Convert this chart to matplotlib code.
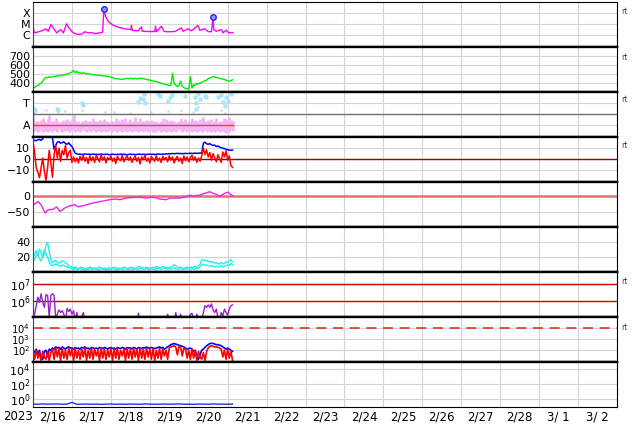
# plot.py
# Space-weather summary, 2023-02-16 .. 2023-03-02: nine stacked panels
# (X-ray, wind speed, sector, IMF, Dst, density, electrons, protons, neutrons)

import numpy as np
import matplotlib
matplotlib.use("Agg")
import matplotlib.pyplot as plt
from matplotlib.ticker import NullLocator

# ---- time base: hours since 2023-02-16 00:00 UT ----
HOURS = np.arange(124)
day_labels = ["2/16", "2/17", "2/18", "2/19", "2/20", "2/21", "2/22", "2/23",
              "2/24", "2/25", "2/26", "2/27", "2/28", "3/ 1", "3/ 2"]

# ---- panel 1: X-ray flux ----
xray_hours = [0, 0.6, 1.2, 4.3, 6.4, 7.8, 9.4, 11.1, 12.5, 14.6,
              15.6, 17.2, 18.7, 20.7, 22.2, 23.8, 25.8, 27.9, 30.0, 32.0,
              34.1, 36.1, 38.2, 41.2, 42.9, 43.7, 44.7, 45.9, 47.4, 49.4,
              52.5, 56.6, 60.3, 60.7, 61.1, 64.8, 66.9, 67.3, 71.0, 75.1,
              75.5, 76.1, 79.2, 80.8, 83.3, 87.4, 91.5, 92.5, 95.6, 97.6,
              101.7, 102.8, 105.8, 107.9, 110.0, 111.0, 111.4, 113.0, 116.1, 117.1,
              119.2, 120.6, 123.3]
xray_flux = [8e-6, 2.0e-6, 1.5e-6, 2.1e-6, 2.6e-6, 3.5e-6, 2.1e-6, 8.7e-6, 4.3e-6, 1.5e-6,
             2.0e-6, 3.0e-6, 1.5e-6, 1.0e-5, 4.3e-6, 2.1e-6, 1.3e-6, 1.07e-6, 1.2e-6, 1.9e-6,
             1.5e-6, 1.6e-6, 1.3e-6, 1.5e-6, 1.7e-6, 2.3e-4, 4.9e-5, 2.1e-5, 1.2e-5, 7.6e-6,
             4.9e-6, 3.5e-6, 3.0e-6, 7.0e-6, 2.6e-6, 2.3e-6, 5.3e-6, 2.1e-6, 2.0e-6, 2.0e-6,
             6.0e-6, 1.9e-6, 6.0e-6, 2.0e-6, 1.9e-6, 2.0e-6, 4.3e-6, 2.1e-6, 3.5e-6, 2.3e-6,
             7.0e-6, 2.6e-6, 3.5e-6, 2.0e-6, 1.9e-6, 4.3e-5, 3.0e-6, 2.1e-6, 3.0e-6, 1.5e-6,
             2.6e-6, 1.5e-6, 1.6e-6]
flare_hours = [43.7, 111.0]
flare_flux = [2.3e-4, 4.3e-5]

# ---- panel 2: solar wind speed (km/s), hourly ----
speed = [340, 352, 365, 372, 385, 400, 420, 445, 462,
         458, 470, 462, 468, 475, 470, 482, 478,
         486, 480, 495, 490, 502, 498, 515, 520,
         540, 512, 530, 508, 515, 505, 512, 508,
         500, 505, 496, 498, 492, 490, 488, 485,
         486, 482, 480, 478, 476, 474, 470, 466,
         460, 452, 448, 446, 444, 442, 440, 443,
         448, 452, 446, 455, 450, 448, 452, 446,
         450, 454, 448, 452, 444, 438, 436, 432,
         428, 424, 420, 416, 410, 404, 398, 392,
         388, 384, 378, 374, 372, 505, 395, 380,
         362, 372, 420, 365, 350, 342, 336, 332,
         470, 345, 385, 372, 398, 388, 402, 405,
         418, 425, 432, 448, 456, 462, 470, 466,
         460, 456, 450, 448, 442, 438, 432, 425,
         420, 428, 435]

# ---- panel 3: sector polarity (A = 0, T = 1), hourly ranges + points ----
pink_hi = [0.45, 0.2, 0.15, 0.2, 0.1, 0.25, 0.35, 0.2, 0.15, 0.3, 0.45, 0.2,
           0.15, 0.2, 0.35, 0.2, 0.15, 0.1, 0.2, 0.25, 0.15, 0.3, 0.2, 0.15,
           0.3, 0.45, 0.2, 0.15, 0.2, 0.1, 0.2, 0.15, 0.25, 0.2, 0.15, 0.2,
           0.15, 0.35, 0.2, 0.15, 0.2, 0.25, 0.15, 0.2, 0.3, 0.2, 0.15, 0.1,
           0.2, 0.15, 0.2, 0.35, 0.2, 0.25, 0.15, 0.3, 0.2, 0.35, 0.15, 0.2,
           0.3, 0.15, 0.2, 0.4, 0.2, 0.15, 0.35, 0.2, 0.15, 0.2, 0.25, 0.2,
           0.15, 0.25, 0.2, 0.15, 0.2, 0.1, 0.2, 0.15, 0.35, 0.2, 0.3, 0.15,
           0.2, 0.25, 0.15, 0.2, 0.1, 0.15, 0.2, 0.35, 0.15, 0.2, 0.3, 0.15,
           0.2, 0.15, 0.35, 0.2, 0.25, 0.2, 0.15, 0.3, 0.2, 0.4, 0.2, 0.15,
           0.25, 0.2, 0.3, 0.15, 0.2, 0.35, 0.15, 0.2, 0.1, 0.2, 0.35, 0.3,
           0.2, 0.4, 0.25, 0.2]
pink_lo = [-0.3, -0.25, -0.2, -0.3, -0.25, -0.15, -0.3, -0.2, -0.25, -0.3, -0.2, -0.25,
           -0.3, -0.2, -0.25, -0.3, -0.15, -0.25, -0.3, -0.2, -0.25, -0.2, -0.3, -0.25,
           -0.2, -0.25, -0.3, -0.2, -0.25, -0.3, -0.2, -0.15, -0.25, -0.3, -0.2, -0.25,
           -0.3, -0.2, -0.25, -0.3, -0.25, -0.2, -0.3, -0.25, -0.2, -0.3, -0.25, -0.2,
           -0.25, -0.3, -0.2, -0.25, -0.3, -0.2, -0.25, -0.3, -0.15, -0.25, -0.3, -0.2,
           -0.25, -0.3, -0.2, -0.25, -0.2, -0.3, -0.25, -0.2, -0.3, -0.25, -0.2, -0.3,
           -0.25, -0.2, -0.3, -0.25, -0.3, -0.2, -0.25, -0.3, -0.2, -0.25, -0.3, -0.2,
           -0.25, -0.3, -0.2, -0.25, -0.3, -0.2, -0.15, -0.25, -0.3, -0.2, -0.25, -0.3,
           -0.2, -0.25, -0.3, -0.2, -0.25, -0.3, -0.25, -0.2, -0.3, -0.25, -0.2, -0.3,
           -0.25, -0.2, -0.3, -0.25, -0.3, -0.2, -0.25, -0.3, -0.2, -0.25, -0.3, -0.35,
           -0.25, -0.3, -0.2, -0.25]
sky_hours = [0.2, 0.8, 1.5, 14.6, 15.6, 30.0, 31.0, 64.8, 66.0, 67.9,
             68.2, 68.9, 77.1, 78.0, 83.3, 84.5, 85.5, 93.5, 99.7, 100.5,
             101.7, 102.8, 105.8, 106.8, 114.0, 116.1, 117.1, 118.1, 119.2, 120.0,
             121.9, 100.6]
sky_vals = [0.75, 0.6, 0.7, 0.75, 0.7, 1.0, 0.95, 1.05, 1.25, 1.2,
            1.44, 1.0, 1.44, 1.35, 1.13, 1.3, 1.4, 1.36, 1.28, 1.0,
            1.44, 1.2, 1.36, 1.28, 1.28, 1.4, 1.05, 0.9, 1.3, 1.1,
            1.44, 0.75]
gray_hours = [0.5, 15.6, 19.7, 30.0, 44.3, 59.5, 72.5, 83.3, 91.5, 98.6,
              101.7, 116.1, 118.1, 50.0, 8.0]
gray_vals = [0.85, 0.57, 0.65, 0.7, 0.6, 0.57, 0.6, 0.65, 0.72, 0.62,
             0.85, 0.72, 0.57, 0.6, 0.7]

# ---- panel 4: IMF Bt (blue) and Bz (red), nT, hourly ----
bt = [16.5, 17.2, 16.8, 17.5, 18.0, 17.2, 18.5, 21.5, 21.0, 22.0, 21.5, 20.5,
      19.5, 9.0, 12.5, 15.5, 16.0, 14.5, 15.0, 15.8, 14.2, 13.5, 14.8, 13.0,
      11.5, 8.5, 5.5, 4.8, 4.5, 4.6, 4.2, 4.4, 4.7, 4.3, 4.5, 4.4,
      4.2, 4.6, 4.3, 4.5, 4.1, 4.4, 4.6, 4.3, 4.2, 4.5, 4.4, 4.0,
      4.2, 4.5, 4.3, 4.1, 4.4, 4.2, 4.6, 4.3, 4.5, 4.2, 4.0, 4.3,
      4.5, 4.2, 4.4, 4.1, 4.3, 4.6, 4.4, 4.2, 4.5, 4.3, 4.1, 4.4,
      4.6, 4.3, 4.5, 4.2, 4.4, 4.7, 4.5, 4.3, 4.6, 4.4, 4.8, 4.6,
      5.0, 4.8, 5.2, 4.9, 5.1, 5.3, 5.0, 5.2, 4.9, 5.1, 5.3, 5.0,
      5.2, 5.4, 5.1, 5.3, 5.5, 5.2, 5.4, 5.6, 5.3, 14.5, 15.5, 14.0,
      13.5, 14.2, 13.0, 12.5, 12.8, 11.5, 12.0, 11.0, 10.5, 10.0, 9.5, 9.0,
      8.5, 8.2, 8.0, 8.3]
bz = [16.0, 6.0, -8.0, -12.0, -17.0, -8.0, 1.0, -11.0, -19.5, -8.0, 8.0, -3.0,
      -16.5, 4.0, 12.5, 1.0, 10.0, -2.0, 8.0, 4.0, 12.5, 1.0, 6.0, 8.0,
      -3.0, 2.0, -2.5, 1.0, -3.5, 2.5, -1.0, 3.5, -2.0, 1.5, -4.0, 3.0,
      -1.5, 2.0, -3.0, 3.5, 0.5, -2.5, 4.0, -1.0, 2.0, -3.5, 1.5, -0.5,
      3.0, -2.0, 1.0, -4.0, 2.5, 0.0, -1.5, 3.5, -2.5, 1.0, 3.0, -1.0,
      2.0, -3.0, 0.5, 3.0, -2.0, 1.5, -4.5, 2.0, -0.5, 3.5, -2.0, 1.0,
      -3.5, 2.5, 0.0, -2.0, 3.0, -1.5, 1.0, -3.0, 2.5, -0.5, 1.5, -2.5,
      3.0, -1.0, 2.0, -3.5, 0.5, 2.5, -2.0, 1.0, -4.0, 3.0, -1.5, 2.0,
      -2.5, 1.5, 3.5, -1.0, 2.0, -3.0, 1.0, -2.0, 3.0, 10.0, 4.0, 8.5,
      2.0, 6.0, -1.0, 5.0, 1.5, -2.5, 4.0, 0.5, -3.0, 6.5, 2.0, 7.5,
      -1.0, 3.0, -6.0, -7.5]

# ---- panel 5: Dst (nT) ----
dst_hours = [0.2, 3.3, 5.3, 7.4, 9.4, 12.5, 14.6, 16.6, 19.7, 22.8,
             25.8, 27.9, 33.0, 35.0, 41.2, 47.4, 50.5, 53.5, 57.6, 61.7,
             65.8, 69.9, 74.0, 78.1, 82.2, 84.3, 90.4, 93.5, 96.5, 98.6,
             102.7, 105.8, 108.9, 111.0, 113.0, 115.0, 118.1, 120.2, 122.2, 123.3]
dst_vals = [-26, -16, -29, -52, -42, -40, -33, -47, -36, -29,
            -26, -33, -26, -23, -16, -10, -8, -10, -5, -3,
            -2, -5, -2, -8, -10, -5, -5, -2, 4, 2,
            4, 10, 15, 10, 7, 0, 10, 14, 5, 2]

# ---- panel 6: proton density (/cc), two sources, hourly ----
dens_a = [20, 24, 29, 22, 31, 26, 20, 24, 36, 40, 28, 16,
          13, 15, 16, 13, 12, 14, 15, 14, 13, 11, 9, 8,
          7, 6, 7, 6, 5, 6, 7, 6, 5, 5, 6, 7,
          6, 5, 6, 5, 6, 7, 6, 5, 6, 5, 5, 6,
          5, 6, 7, 6, 5, 6, 5, 6, 7, 6, 5, 6,
          6, 7, 6, 5, 6, 7, 8, 6, 5, 6, 7, 6,
          5, 6, 7, 6, 8, 7, 6, 7, 8, 7, 6, 7,
          6, 7, 8, 10, 9, 7, 6, 7, 6, 5, 6, 7,
          6, 7, 6, 7, 8, 7, 9, 11, 16, 17, 15, 16,
          14, 15, 13, 14, 12, 13, 11, 12, 13, 11, 12, 14,
          13, 15, 17, 14]
dens_b = [14, 18, 22, 26, 18, 15, 22, 30, 25, 20, 14, 10,
          9, 10, 11, 10, 9, 8, 10, 9, 8, 7, 6, 6,
          5, 4, 5, 4, 4, 5, 4, 4, 3, 4, 4, 5,
          4, 4, 5, 4, 3, 4, 5, 4, 4, 3, 4, 4,
          4, 5, 4, 4, 3, 4, 5, 4, 4, 5, 4, 4,
          5, 4, 4, 5, 4, 4, 5, 6, 4, 4, 5, 4,
          4, 5, 4, 4, 5, 6, 5, 4, 5, 6, 5, 4,
          5, 4, 5, 6, 5, 4, 4, 5, 4, 4, 5, 4,
          5, 4, 5, 4, 5, 6, 5, 8, 10, 11, 9, 10,
          9, 8, 9, 8, 7, 8, 7, 8, 9, 7, 8, 9,
          10, 9, 12, 10]

# ---- panel 7: electron flux, log10, hourly (4.8 = below plot floor) ----
elec_log = [4.8, 5.2, 5.7, 6.2, 5.9, 6.4, 5.9, 5.6, 6.35, 6.3, 5.0, 6.3,
            6.4, 6.3, 5.0, 5.2, 5.45, 5.3, 5.4, 5.2, 4.8, 5.55, 5.35, 5.5,
            5.2, 5.4, 4.8, 5.3, 4.8, 4.8, 5.0, 5.3, 4.8, 4.8, 4.8, 4.8,
            4.8, 4.8, 4.8, 4.8, 4.8, 4.8, 4.8, 4.8, 4.8, 4.8, 4.8, 4.8,
            4.8, 4.8, 4.8, 4.8, 4.8, 4.8, 4.8, 4.8, 4.8, 4.8, 4.8, 4.8,
            4.8, 4.8, 4.8, 4.8, 4.8, 5.25, 4.8, 4.8, 4.8, 4.8, 4.8, 4.8,
            4.8, 4.8, 4.8, 4.8, 4.8, 4.8, 4.8, 4.8, 4.8, 4.8, 4.8, 5.2,
            4.8, 4.8, 4.8, 4.8, 5.3, 4.8, 4.8, 5.2, 4.8, 4.8, 4.8, 4.8,
            4.8, 5.2, 5.25, 4.8, 4.8, 5.2, 4.8, 4.8, 4.8, 5.3, 5.7, 5.6,
            5.75, 5.6, 5.8, 5.45, 5.3, 5.5, 5.0, 4.8, 5.3, 5.1, 5.5, 5.3,
            5.15, 5.5, 5.7, 5.75]

# ---- panel 8: proton flux, log10, hourly ----
prot_red_log = [1.9, 1.2, 2.0, 1.3, 1.8, 1.1, 1.9, 1.4, 1.2, 1.9, 1.1, 1.8,
                2.1, 1.2, 2.2, 1.4, 2.1, 1.1, 2.2, 1.3, 2.0, 1.2, 2.2, 1.5,
                2.1, 1.1, 2.2, 1.3, 2.0, 1.2, 2.1, 1.4, 2.2, 1.1, 2.0, 1.3,
                2.2, 1.2, 2.1, 1.5, 2.0, 1.1, 2.2, 1.3, 2.1, 1.2, 2.0, 1.4,
                2.2, 1.1, 2.1, 1.3, 2.2, 1.2, 2.0, 1.5, 2.1, 1.1, 2.2, 1.3,
                2.1, 1.2, 2.2, 1.4, 2.1, 1.1, 2.2, 1.3, 2.1, 1.2, 2.2, 1.4,
                2.1, 1.2, 2.2, 1.1, 2.0, 1.3, 2.2, 1.2, 2.1, 1.5, 2.0, 1.2,
                2.2, 2.3, 2.35, 2.4, 2.3, 1.6, 2.35, 2.3, 1.5, 2.2, 2.1, 1.3,
                2.0, 1.2, 2.1, 1.3, 2.0, 1.1, 1.9, 1.4, 1.2, 1.8, 1.1, 1.9,
                2.2, 2.35, 2.4, 2.35, 2.3, 2.3, 2.25, 2.2, 2.1, 1.4, 2.0, 1.2,
                2.1, 1.3, 1.9, 1.1]
prot_blue_log = [2.0, 1.8, 2.1, 1.6, 2.0, 1.3, 1.2, 1.9, 2.0, 1.4, 2.1, 2.0,
                 2.2, 2.1, 2.3, 2.2, 2.25, 2.1, 2.3, 2.2, 2.1, 2.25, 2.3, 2.2,
                 2.2, 2.1, 2.25, 2.15, 2.2, 2.1, 2.25, 2.2, 2.3, 2.15, 2.2, 2.1,
                 2.25, 2.2, 2.15, 2.2, 2.1, 2.25, 2.2, 2.15, 2.25, 2.2, 2.1, 2.2,
                 2.25, 2.15, 2.2, 2.1, 2.25, 2.2, 2.15, 2.25, 2.2, 2.1, 2.25, 2.2,
                 2.2, 2.15, 2.25, 2.2, 2.1, 2.25, 2.2, 2.15, 2.25, 2.2, 2.3, 2.2,
                 2.2, 2.25, 2.2, 2.15, 2.2, 2.25, 2.3, 2.2, 2.25, 2.1, 2.2, 2.3,
                 2.4, 2.5, 2.55, 2.6, 2.55, 2.5, 2.45, 2.4, 2.35, 2.3, 2.2, 2.1,
                 2.15, 2.2, 2.1, 1.9, 2.0, 1.3, 1.2, 1.6, 2.0, 2.1, 2.25, 2.4,
                 2.5, 2.6, 2.62, 2.6, 2.55, 2.5, 2.5, 2.45, 2.4, 2.3, 2.2, 2.1,
                 2.2, 2.1, 2.0, 1.9]

# ---- panel 9: neutron-type count, log10, every 3 h ----
neut_hours = np.arange(0, 124, 3)
neut_log = [-0.68, -0.70, -0.66, -0.69, -0.67, -0.67, -0.70, -0.68, -0.45, -0.71,
            -0.69, -0.67, -0.70, -0.68, -0.72, -0.69, -0.66, -0.70, -0.68, -0.71,
            -0.67, -0.69, -0.70, -0.66, -0.68, -0.71, -0.69, -0.67, -0.70, -0.68,
            -0.66, -0.70, -0.69, -0.71, -0.67, -0.68, -0.70, -0.66, -0.69, -0.68,
            -0.70, -0.67]

# ---- figure ----
W, H = 634, 424
fig, axes = plt.subplots(9, 1, figsize=(W / 100, H / 100), dpi=100)
fig.subplots_adjust(left=33 / W, right=617 / W, top=1 - 1.7 / H,
                    bottom=1 - 406.5 / H, hspace=0)

for i, ax in enumerate(axes):
    ax.set_xlim(0, 360)
    ax.set_xticks(np.arange(0, 361, 24))
    ax.set_xticks(np.arange(12, 360, 24), minor=True)
    ax.set_xticklabels([])
    ax.grid(True, which="major", color="#d4d4d4", lw=0.8)
    ax.set_axisbelow(True)
    ax.tick_params(axis="x", which="both", length=0, labelbottom=False)
    ax.tick_params(axis="y", which="both", length=0, pad=2, labelsize=8)
    ax.spines["top"].set_linewidth(0.8 if i == 0 else 1.7)
    ax.spines["bottom"].set_linewidth(0.8 if i == 8 else 1.7)
    ax.spines["left"].set_color("#444444")
    ax.spines["left"].set_linewidth(0.8)
    ax.spines["right"].set_linewidth(0.8)

# 1) X-ray
ax = axes[0]
ax.set_yscale("log")
ax.plot(xray_hours, xray_flux, color="#ff00ff", lw=1)
ax.plot(flare_hours, flare_flux, "o", ms=4, mfc="#9999ff", mec="#2222ff", mew=1)
ax.set_ylim(8.5e-8, 1e-3)
ax.set_yticks([1e-6, 1e-5, 1e-4])
ax.set_yticklabels(["C", "M", "X"])
ax.yaxis.set_minor_locator(NullLocator())

# 2) wind speed
ax = axes[1]
ax.plot(HOURS, speed, color="#00ee00", lw=1)
ax.set_ylim(305, 800)
ax.set_yticks([400, 500, 600, 700])

# 3) sector
ax = axes[2]
ax.vlines(HOURS, pink_lo, pink_hi, color="#f7b4f2", lw=2.0)
ax.plot(gray_hours, gray_vals, "s", ms=2, color="#cccccc", mec="none")
ax.plot(sky_hours, sky_vals, "s", ms=2.2, color="#a8e4f8", mec="none")
ax.plot([HOURS[0], HOURS[-1]], [0, 0], color="#e04848", lw=1)
ax.axhline(0.5, color="#707070", lw=1)
ax.set_ylim(-0.52, 1.54)
ax.set_yticks([0, 1])
ax.set_yticklabels(["A", "T"])

# 4) Bt / Bz
ax = axes[3]
ax.axhline(0, color="#990000", lw=1)
ax.plot(HOURS, bt, color="#0000ff", lw=1.1)
ax.plot(HOURS, bz, color="#ff0000", lw=1.1)
ax.set_ylim(-20.5, 20.5)
ax.set_yticks([-10, 0, 10])

# 5) Dst
ax = axes[4]
ax.axhline(0, color="#e06060", lw=1.8, alpha=0.85)
ax.plot(dst_hours, dst_vals, color="#ee22ee", lw=1)
ax.set_ylim(-95, 47)
ax.set_yticks([-50, 0])

# 6) density
ax = axes[5]
ax.plot(HOURS, dens_b, color="#22eeee", lw=1)
ax.plot(HOURS, dens_a, color="#22eeee", lw=1)
ax.set_ylim(1, 61)
ax.set_yticks([20, 40])

# 7) electrons
ax = axes[6]
ax.set_yscale("log")
ax.axhline(1e6, color="#cc0000", lw=1)
ax.axhline(1e7, color="#cc0000", lw=1)
ax.plot(HOURS, 10 ** np.array(elec_log), color="#9922cc", lw=1)
ax.set_ylim(1.15e5, 5.1e7)
ax.set_yticks([1e6, 1e7])
ax.yaxis.set_minor_locator(NullLocator())

# 8) protons
ax = axes[7]
ax.set_yscale("log")
ax.axhline(1e4, color="#dd3333", lw=1.2, ls=(0, (6, 4)))
ax.plot(HOURS, 10 ** np.array(prot_blue_log), color="#0000ff", lw=1.2)
ax.plot(HOURS, 10 ** np.array(prot_red_log), color="#ff0000", lw=1.2)
ax.set_ylim(10, 1e5)
ax.set_yticks([1e2, 1e3, 1e4])
ax.yaxis.set_minor_locator(NullLocator())
ax.tick_params(axis="y", labelsize=7.2)

# 9) neutrons
ax = axes[8]
ax.set_yscale("log")
ax.plot(neut_hours, 10 ** np.array(neut_log), color="#2233dd", lw=1)
ax.set_ylim(0.1, 1e5)
ax.set_yticks([1, 1e2, 1e4])
ax.yaxis.set_minor_locator(NullLocator())
ax.set_xticks(np.arange(12, 360, 24), minor=True)
ax.set_xticklabels(day_labels, minor=True)
ax.tick_params(axis="x", which="minor", labelbottom=True, labelsize=8.5, pad=3)

fig.text(18 / W, 1 - 416 / H, "2023", ha="center", va="center", fontsize=8.5)

# small "rt" flags on the right edge
for ypx in [12, 57, 100, 146, 282, 327]:
    fig.text(621 / W, 1 - ypx / H, "rt", ha="left", va="center",
             fontsize=5.5, color="#444444")

fig.savefig("out.png", dpi=100)
